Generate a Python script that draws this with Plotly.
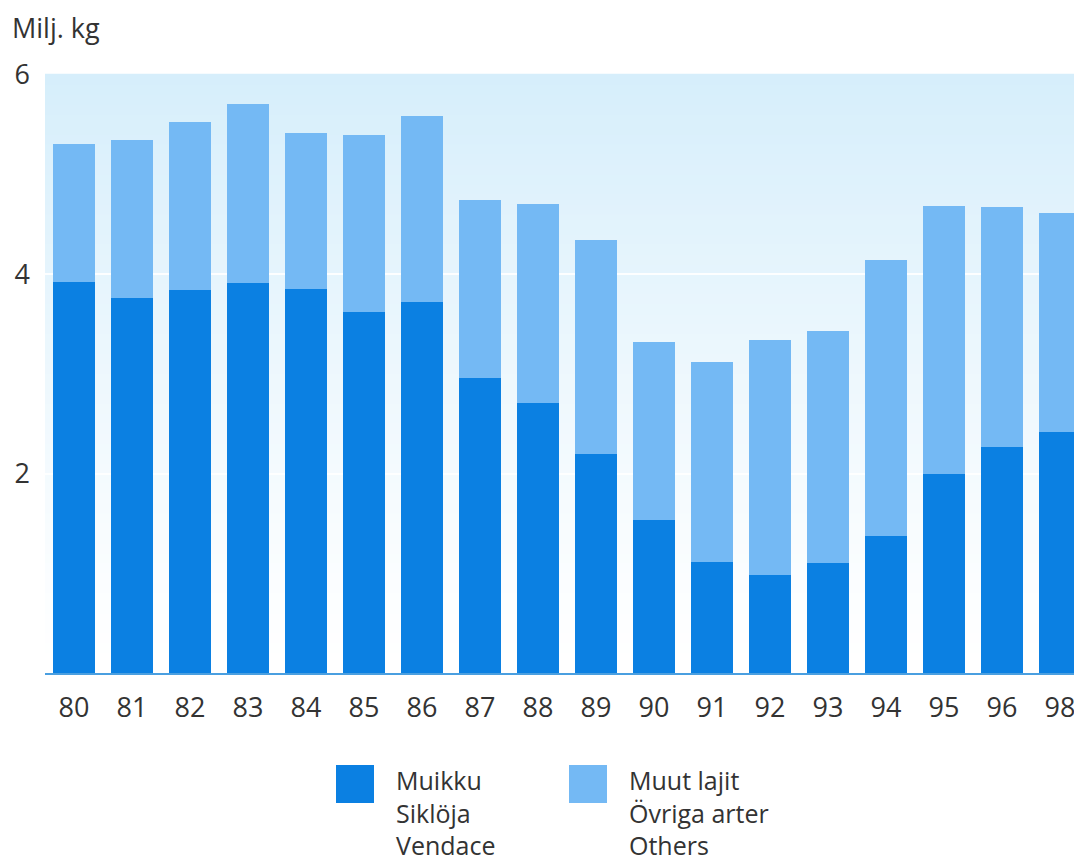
import plotly.graph_objects as go

years = ["80", "81", "82", "83", "84", "85", "86", "87", "88", "89",
         "90", "91", "92", "93", "94", "95", "96", "98"]
vendace = [3.92, 3.76, 3.84, 3.91, 3.85, 3.62, 3.72, 2.96, 2.71, 2.20,
           1.54, 1.11, 0.98, 1.10, 1.37, 2.00, 2.27, 2.42]
totals = [5.31, 5.35, 5.53, 5.71, 5.42, 5.40, 5.59, 4.75, 4.71, 4.34,
          3.32, 3.12, 3.34, 3.43, 4.14, 4.69, 4.68, 4.62]
others = [round(t - v, 2) for t, v in zip(totals, vendace)]

DARK = "#0b80e2"
LIGHT = "#74b9f4"
TEXT = "#333333"
FONT = "Open Sans"

fig = go.Figure()
fig.add_trace(go.Bar(x=years, y=vendace, name="Muikku<br>Siklöja<br>Vendace",
                     marker=dict(color=DARK, line=dict(width=0)), width=0.72))
fig.add_trace(go.Bar(x=years, y=others, name="Muut lajit<br>Övriga arter<br>Others",
                     marker=dict(color=LIGHT, line=dict(width=0)), width=0.72))

# page offset (browser body margin)
OFF = 8
W, H = 1082 - OFF, 863 - OFF
# plot area in viewport pixels
PL, PT, PB = 45, 75, 673
L, R, T, B = PL - OFF, 0, PT - OFF, (863 - PB)
pw, ph = W - L - R, H - T - B


def px_to_paper_x(px):
    return (px - OFF - L) / pw


def px_to_paper_y(py):
    return (H - B - (py - OFF)) / ph


# background gradient (decoration): light blue at top fading to white at bottom
shapes = []
N = 60
top = (214, 238, 251)
bot = (255, 255, 255)
for i in range(N):
    f0 = i / N
    f1 = (i + 1) / N
    t = (f0 + f1) / 2  # 0 bottom -> 1 top
    w = t ** 1.2
    c = tuple(int(round(bot[k] + (top[k] - bot[k]) * w)) for k in range(3))
    shapes.append(dict(type="rect", xref="paper", yref="paper",
                       x0=0, x1=1, y0=f0, y1=f1 + 0.002,
                       fillcolor="rgb(%d,%d,%d)" % c, line=dict(width=0),
                       layer="below"))

# manual legend
legend_items = [
    (336, DARK, "Muikku<br>Siklöja<br>Vendace"),
    (569, LIGHT, "Muut lajit<br>Övriga arter<br>Others"),
]
annotations = []
for x0, col, label in legend_items:
    shapes.append(dict(type="rect", xref="paper", yref="paper",
                       x0=px_to_paper_x(x0), x1=px_to_paper_x(x0 + 38),
                       y0=px_to_paper_y(803), y1=px_to_paper_y(765),
                       fillcolor=col, line=dict(width=0)))
    annotations.append(dict(xref="paper", yref="paper",
                            x=px_to_paper_x(x0 + 58), y=px_to_paper_y(761),
                            xanchor="left", yanchor="top", align="left",
                            text=label, showarrow=False,
                            font=dict(family=FONT, size=25, color=TEXT)))

annotations.append(dict(xref="paper", yref="paper",
                        x=px_to_paper_x(10), y=px_to_paper_y(28),
                        xanchor="left", yanchor="middle",
                        text="Milj. kg", showarrow=False,
                        font=dict(family=FONT, size=27, color=TEXT)))

fig.update_layout(
    width=W, height=H,
    margin=dict(l=L, r=R, t=T, b=B),
    paper_bgcolor="white",
    plot_bgcolor="white",
    barmode="stack",
    showlegend=False,
    shapes=shapes,
    annotations=annotations,
    font=dict(family=FONT, size=26, color=TEXT),
)
fig.update_xaxes(range=[-0.5, 17.38], showline=True, linecolor="#4a9fe0",
                 linewidth=1.5, ticks="", showgrid=False,
                 tickfont=dict(family=FONT, size=27, color=TEXT),
                 ticklabelstandoff=10)
fig.update_yaxes(range=[0, 6], tickvals=[2, 4, 6], ticktext=["2", "4", "6"],
                 showgrid=True, gridcolor="rgba(255,255,255,0.9)", gridwidth=2,
                 zeroline=False, showline=False, ticks="",
                 tickfont=dict(family=FONT, size=27, color=TEXT),
                 ticklabelstandoff=14)

fig.write_html("out.html")
